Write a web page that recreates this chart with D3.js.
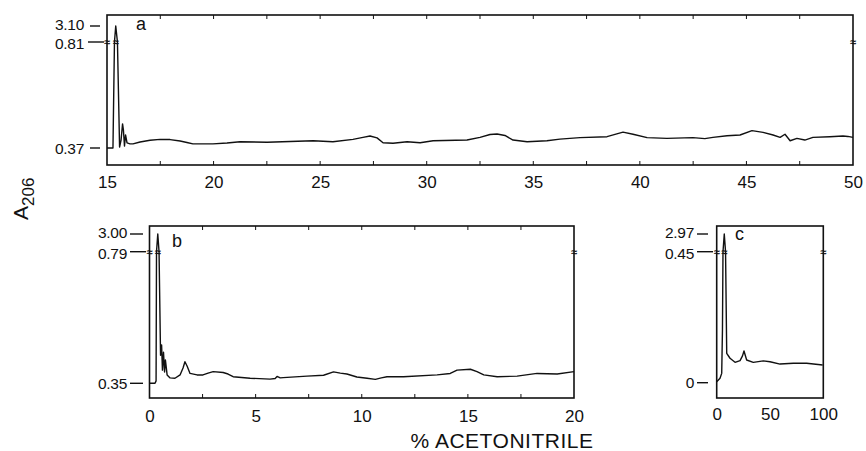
<!DOCTYPE html>
<html><head><meta charset="utf-8">
<script src="https://cdn.jsdelivr.net/npm/d3@7"></script>
<style>
html,body{margin:0;padding:0;background:#fff;}
text{font-family:"Liberation Sans",Arial,sans-serif;fill:#111;}
</style></head>
<body><div id="chart"></div>
<script>
// ---- data ----
// Panel a: % acetonitrile 15-50
const aX = [15.0,15.28,15.35,15.41,15.49,15.59,15.66,15.73,15.77,15.82,15.87,15.94,16.08,16.22,16.55,17.02,17.49,17.96,18.43,18.75,19.03,19.97,20.63,21.24,22.51,23.59,24.67,25.60,26.54,27.01,27.34,27.67,27.95,28.42,29.08,29.69,30.30,31.89,32.50,32.97,33.30,33.67,34.05,34.71,35.64,36.25,37.19,38.46,39.21,39.68,40.34,41.27,42.49,43.05,43.43,44.09,44.70,45.26,45.78,46.25,46.58,46.81,47.05,47.37,47.74,48.12,48.91,49.53,49.76,50.0];
const aY = [0.37,0.37,0.81,3.10,0.81,0.374,0.403,0.47,0.445,0.378,0.424,0.391,0.387,0.387,0.395,0.402,0.406,0.405,0.399,0.393,0.387,0.387,0.391,0.396,0.394,0.397,0.400,0.396,0.406,0.414,0.420,0.412,0.392,0.390,0.396,0.392,0.400,0.403,0.414,0.426,0.428,0.422,0.403,0.396,0.400,0.407,0.413,0.417,0.436,0.427,0.413,0.410,0.413,0.409,0.414,0.421,0.424,0.442,0.435,0.424,0.414,0.427,0.400,0.410,0.403,0.414,0.417,0.420,0.418,0.414];
// Panel b: % acetonitrile 0-20
const bX = [0.0,0.26,0.31,0.33,0.39,0.45,0.52,0.57,0.61,0.66,0.71,0.75,0.83,0.97,1.20,1.44,1.58,1.67,1.77,1.91,2.24,2.52,2.76,3.00,3.47,3.70,3.94,4.74,5.68,5.92,6.01,6.16,6.30,7.42,8.20,8.67,8.99,9.30,9.77,10.25,10.64,10.92,11.19,11.97,13.55,14.17,14.49,15.12,15.43,15.75,16.38,17.32,18.26,19.21,20.0];
const bY = [0.35,0.35,0.358,0.79,3.00,0.79,0.444,0.478,0.394,0.454,0.388,0.428,0.378,0.368,0.367,0.378,0.401,0.422,0.408,0.383,0.378,0.378,0.384,0.389,0.386,0.381,0.372,0.367,0.364,0.366,0.373,0.368,0.369,0.374,0.377,0.388,0.384,0.381,0.371,0.367,0.363,0.368,0.372,0.372,0.378,0.383,0.394,0.397,0.389,0.378,0.372,0.374,0.383,0.381,0.389];
// Panel c: % acetonitrile 0-100
const cX = [0,3.1,4.7,5.4,5.9,7.1,8.3,9.4,12.5,17.2,21.9,24.2,25.6,28.1,34.3,43.7,50.0,59.4,71.9,84.4,99.4];
const cY = [0.003,0.015,0.032,0.181,0.45,2.97,0.45,0.101,0.084,0.070,0.076,0.092,0.109,0.078,0.070,0.075,0.072,0.064,0.067,0.067,0.061];

const aTicks = [15,20,25,30,35,40,45,50];
const bTicks = [0,5,10,15,20];
const cTicks = [0,50,100];
const aYLabels = ["3.10","0.81","0.37"];
const bYLabels = ["3.00","0.79","0.35"];
const cYLabels = ["2.97","0.45","0"];
const aYVals = [3.10,0.81,0.37];
const bYVals = [3.00,0.79,0.35];
const cYVals = [2.97,0.45,0];

// ---- layout ----
const W = 866, H = 451;
const svg = d3.select("#chart").append("svg").attr("width", W).attr("height", H);

const panels = [
  {name:"a", xs:aX, ys:aY, ticks:aTicks, minor:2.5, yl:aYLabels, yv:aYVals,
   xd:[15,50], xr:[107,853], top:15, bottom:165, yr:[148,42,26],
   labEnd:84, dash:[[90,100],[88,104],[90,100]], tickLabY:188, letter:[136,30], peakX:15.41},
  {name:"b", xs:bX, ys:bY, ticks:bTicks, minor:2.5, yl:bYLabels, yv:bYVals,
   xd:[0,20], xr:[149.5,574], top:226, bottom:398, yr:[383.3,251.7,234],
   labEnd:127, dash:[[130,143],[130,146],[130,143]], tickLabY:422, letter:[172,247], peakX:0.39},
  {name:"c", xs:cX, ys:cY, ticks:cTicks, minor:null, yl:cYLabels, yv:cYVals,
   xd:[0,100], xr:[716.7,823.3], top:226, bottom:398, yr:[382.7,251.7,234],
   labEnd:694, dash:[[697,708],[697,713],[697,708]], tickLabY:420, letter:[735,240], peakX:7.1}
];
const labNudge = [-1.5, 1.5, 0];

panels.forEach(p => {
  const x = d3.scaleLinear().domain(p.xd).range(p.xr);
  const yv = p.yv.slice().reverse(); // base, break, peak
  const y = d3.scaleLinear().domain(yv).range(p.yr);
  const g = svg.append("g");

  // frame
  g.append("rect").attr("x", p.xr[0]).attr("y", p.top)
    .attr("width", p.xr[1]-p.xr[0]).attr("height", p.bottom-p.top)
    .attr("fill","none").attr("stroke","#111").attr("stroke-width",1.6);

  // bottom axis labels via d3 axis
  const ax = d3.axisBottom(x).tickValues(p.ticks).tickSize(0).tickPadding(0)
    .tickFormat(d3.format("d"));
  const axG = g.append("g").attr("transform", `translate(0,${p.tickLabY})`).call(ax);
  axG.select(".domain").remove();
  axG.selectAll("text").attr("dy", 0).attr("y",0)
    .style("font-size","17px").style("font-family","Liberation Sans, Arial, sans-serif")
    .attr("fill","#111");

  // minor inward ticks on top/bottom
  if (p.minor) {
    const mt = d3.range(p.xd[0]+p.minor, p.xd[1], p.minor);
    g.selectAll(null).data(mt).join("line")
      .attr("x1", d=>x(d)).attr("x2", d=>x(d)).attr("y1", p.bottom).attr("y2", p.bottom-4)
      .attr("stroke","#111").attr("stroke-width",1);
    g.selectAll(null).data(mt).join("line")
      .attr("x1", d=>x(d)).attr("x2", d=>x(d)).attr("y1", p.top).attr("y2", p.top+4)
      .attr("stroke","#111").attr("stroke-width",1);
  }

  // y labels and dashes
  p.yv.forEach((v,i) => {
    const yy = y(v);
    g.append("text").attr("x", p.labEnd).attr("y", yy + labNudge[i])
      .attr("text-anchor","end").attr("dominant-baseline","central")
      .style("font-size","15.5px").style("letter-spacing","-0.3px").text(p.yl[i]);
    g.append("line").attr("x1", p.dash[i][0]).attr("x2", p.dash[i][1])
      .attr("y1", yy).attr("y2", yy).attr("stroke","#111").attr("stroke-width",1.4);
  });

  // trace
  const pts = p.xs.map((d,i)=>[d, p.ys[i]]);
  g.append("path").datum(pts)
    .attr("d", d3.line().x(d=>x(d[0])).y(d=>y(d[1])))
    .attr("fill","none").attr("stroke","#111").attr("stroke-width",1.4)
    .attr("stroke-linejoin","round");

  // break marks
  const brk = y(yv[1]);
  [p.xr[0], x(p.peakX), p.xr[1]].forEach(bx => {
    g.append("text").attr("x", bx).attr("y", brk)
      .attr("text-anchor","middle").attr("dominant-baseline","central")
      .style("font-size","11px").style("font-weight","bold").text("\u2248");
  });

  // panel letter
  g.append("text").attr("x", p.letter[0]).attr("y", p.letter[1])
    .style("font-size","18px").text(p.name);
});

// axis titles
const yt = svg.append("text").attr("transform","translate(28,220) rotate(-90)")
  .attr("text-anchor","start");
yt.append("tspan").style("font-size","21px").text("A");
yt.append("tspan").attr("dy", 6).style("font-size","17px").text("206");

svg.append("text").attr("x", 502).attr("y", 448).attr("text-anchor","middle")
  .style("font-size","21px").style("letter-spacing","0.5px").text("% ACETONITRILE");
</script></body></html>
